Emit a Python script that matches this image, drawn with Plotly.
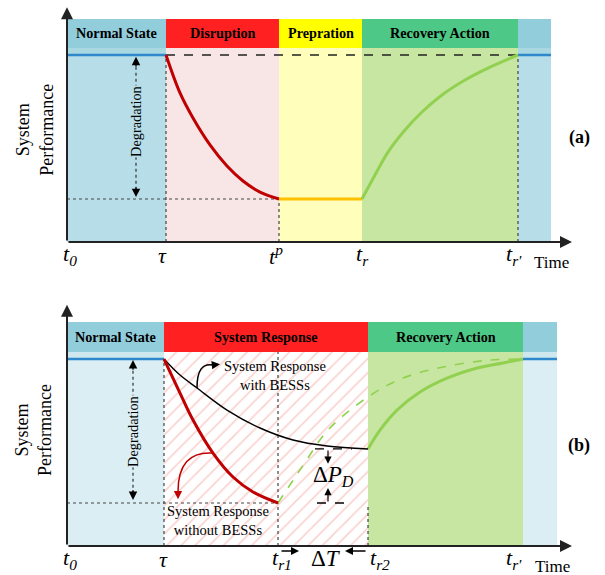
import plotly.graph_objects as go

# ---------------- data: panel (a) ----------------
A_BOUNDS = [0.0, 1.98, 4.24, 5.90, 9.02, 9.68]
A_HEADERS = ["Normal State", "Disruption", "Prepration", "Recovery Action", ""]
A_HEAD_COLORS = ["#92CDDC", "#FF2121", "#FFFF00", "#4EC886", "#92CDDC"]
A_BODY_COLORS = ["#B7DEE8", "#F8E6E6", "#FFFFBB", "#C6E6A2", "#B7DEE8"]
NOMINAL = 1.0
HEAD_LOW = 1.037
A_HEAD_HIGH = 1.193
A_LOW = 0.23
A_DISRUPT_T = [1.98, 2.26, 2.52, 2.86, 3.20, 3.52, 3.86, 4.24]
A_DISRUPT_P = [1.0, 0.797, 0.663, 0.519, 0.406, 0.326, 0.267, 0.23]
A_RECOVER_T = [5.90, 6.16, 6.42, 6.76, 7.10, 7.50, 7.96, 8.42, 9.02]
A_RECOVER_P = [0.23, 0.358, 0.481, 0.599, 0.695, 0.786, 0.866, 0.93, 1.0]
A_TICK_TEXT = ["<i>t</i><sub><i>0</i></sub>", "<i>τ</i>", "<i>t</i><sup><i>p</i></sup>",
               "<i>t</i><sub><i>r</i></sub>", "<i>t</i><sub><i>r'</i></sub>"]
A_TICK_X = [0.06, 1.90, 4.18, 5.90, 8.94]

# ---------------- data: panel (b) ----------------
B_BOUNDS = [0.0, 1.94, 6.02, 9.12, 9.80]
B_HEADERS = ["Normal State", "System Response", "Recovery Action", ""]
B_HEAD_COLORS = ["#92CDDC", "#FF2121", "#4EC886", "#92CDDC"]
B_BODY_COLORS = ["#DAEEF3", "#FFFFFF", "#C6E6A2", "#DAEEF3"]
B_HEAD_HIGH = 1.198
B_TR1 = 4.22
B_LOW = 0.23
B_BESS_END = 0.519
B_NOBESS_T = [1.94, 2.26, 2.52, 2.92, 3.32, 3.72, 4.22]
B_NOBESS_P = [1.0, 0.818, 0.674, 0.497, 0.369, 0.289, 0.23]
B_BESS_T = [1.94, 2.26, 2.60, 3.20, 3.86, 4.52, 5.20, 6.02]
B_BESS_P = [1.0, 0.914, 0.845, 0.727, 0.631, 0.567, 0.535, 0.519]
B_EARLY_T = [4.22, 4.72, 5.22, 6.02, 6.72, 7.52, 8.40, 9.12]
B_EARLY_P = [0.23, 0.43, 0.62, 0.797, 0.898, 0.957, 0.993, 1.0]
B_LATE_T = [6.02, 6.26, 6.60, 7.06, 7.60, 8.20, 8.72, 9.12]
B_LATE_P = [0.519, 0.62, 0.727, 0.824, 0.898, 0.952, 0.979, 1.0]
B_TICK_TEXT = ["<i>t</i><sub><i>0</i></sub>", "<i>τ</i>", "<i>t</i><sub><i>r1</i></sub>",
               "<i>t</i><sub><i>r2</i></sub>", "<i>t</i><sub><i>r'</i></sub>"]
B_TICK_X = [0.06, 1.92, 4.30, 6.26, 8.94]

SERIF = "Liberation Serif, Times New Roman, serif"
RED, ORANGE, GREEN, BLUE = "#C00000", "#FFC000", "#92D050", "#2F88CC"

fig = go.Figure()


def line(xs, ys, color, width, dash="solid", ax="", shape="linear"):
    fig.add_trace(go.Scatter(x=xs, y=ys, mode="lines", xaxis="x" + ax, yaxis="y" + ax,
                             line=dict(color=color, width=width, dash=dash, shape=shape),
                             hoverinfo="skip", showlegend=False))


def rect(x0, x1, y0, y1, color, ax=""):
    fig.add_shape(type="rect", xref="x" + ax, yref="y" + ax, x0=x0, x1=x1, y0=y0, y1=y1,
                  fillcolor=color, line=dict(width=0), layer="below")


def text(x, y, s, size, ax="", bold=False, angle=0, bg=None, color="black", xanchor="center"):
    fig.add_annotation(x=x, y=y, xref="x" + ax, yref="y" + ax, text=("<b>%s</b>" % s) if bold else s,
                       showarrow=False, textangle=angle, xanchor=xanchor,
                       font=dict(family=SERIF, size=size, color=color),
                       bgcolor=bg, borderpad=0)


def arrow(x, y, tx, ty, ax="", color="black", width=1.5, size=1.0, head=2):
    fig.add_annotation(x=x, y=y, ax=tx, ay=ty, xref="x" + ax, yref="y" + ax,
                       axref="x" + ax, ayref="y" + ax, text="", showarrow=True,
                       arrowhead=head, arrowsize=size, arrowwidth=width, arrowcolor=color)


def panel(bounds, headers, head_colors, body_colors, head_high, ax):
    n = len(headers)
    for i in range(n):
        rect(bounds[i], bounds[i + 1], HEAD_LOW, head_high, head_colors[i], ax)
        if head_colors[i] == "#92CDDC":
            rect(bounds[i], bounds[i + 1], 0, NOMINAL, body_colors[i], ax)
            band = "#A9D8E3" if ax == "" else "#CDE8EF"
            rect(bounds[i], bounds[i + 1], NOMINAL, HEAD_LOW, band, ax)
        else:
            rect(bounds[i], bounds[i + 1], 0, HEAD_LOW, body_colors[i], ax)
        if headers[i]:
            text((bounds[i] + bounds[i + 1]) / 2, (HEAD_LOW + head_high) / 2, headers[i], 14.2, ax, bold=True)


# ================= panel (a) =================
panel(A_BOUNDS, A_HEADERS, A_HEAD_COLORS, A_BODY_COLORS, A_HEAD_HIGH, "")
line([A_BOUNDS[1], A_BOUNDS[1]], [0, NOMINAL], "#444", 1.2, "dot")
line([A_BOUNDS[2], A_BOUNDS[2]], [0, A_LOW], "#444", 1.2, "dot")
line([A_BOUNDS[4], A_BOUNDS[4]], [0, NOMINAL], "#444", 1.2, "dot")
line([A_BOUNDS[0], A_BOUNDS[2]], [A_LOW, A_LOW], "#444", 1.2, "dot")
line([A_BOUNDS[1], A_BOUNDS[4]], [NOMINAL, NOMINAL], "#222", 1.3, "dash")
line([A_BOUNDS[0], A_BOUNDS[1]], [NOMINAL, NOMINAL], BLUE, 2.5)
line([A_BOUNDS[4], A_BOUNDS[5]], [NOMINAL, NOMINAL], BLUE, 2.5)
line(A_DISRUPT_T, A_DISRUPT_P, RED, 3, shape="spline")
line([A_BOUNDS[2], A_BOUNDS[3]], [A_LOW, A_LOW], ORANGE, 3)
line(A_RECOVER_T, A_RECOVER_P, GREEN, 3, shape="spline")

# degradation arrow
DEG_XA = 1.38
line([DEG_XA, DEG_XA], [A_LOW + 0.05, NOMINAL - 0.05], "#333", 1.2, "dot")
arrow(DEG_XA, NOMINAL - 0.01, DEG_XA, NOMINAL - 0.07, "", size=1.3, width=1.3)
arrow(DEG_XA, A_LOW + 0.01, DEG_XA, A_LOW + 0.07, "", size=1.3, width=1.3)
text(DEG_XA, 0.642, "Degradation", 14.3, "", angle=-90, bg="#B7DEE8")

# axes
arrow(10.1, 0, 0, 0, "", color="#222", width=2, size=1.2)
arrow(0, 1.255, 0, 0, "", color="#222", width=2, size=1.2)
for tx, tt in zip(A_TICK_X, A_TICK_TEXT):
    text(tx, -0.07, tt, 22, "")
text(9.68, -0.11, "Time", 17, "")
text(10.24, 0.561, "(a)", 18, "", bold=True)
text(-0.64, 0.6, "System<br>Performance", 18, "", angle=-90)

# ================= panel (b) =================
panel(B_BOUNDS, B_HEADERS, B_HEAD_COLORS, B_BODY_COLORS, B_HEAD_HIGH, "2")
fig.add_trace(go.Scatter(
    x=[B_BOUNDS[1], B_BOUNDS[2], B_BOUNDS[2], B_BOUNDS[1], B_BOUNDS[1]],
    y=[0, 0, HEAD_LOW, HEAD_LOW, 0], mode="lines", fill="toself", fillcolor="white",
    fillpattern=dict(shape="/", fgcolor="#F3A7A0", bgcolor="white", size=10, solidity=0.17),
    line=dict(width=0), xaxis="x2", yaxis="y2", hoverinfo="skip", showlegend=False))
line([B_BOUNDS[1], B_BOUNDS[1]], [0, NOMINAL], "#444", 1.2, "dot", "2")
line([B_TR1, B_TR1], [0, HEAD_LOW], "#444", 1.2, "dot", "2")
line([B_BOUNDS[2], B_BOUNDS[2]], [0, 0.21], "#444", 1.2, "dot", "2")
line([B_BOUNDS[0], B_TR1], [B_LOW, B_LOW], "#444", 1.2, "dot", "2")
line([B_BOUNDS[0], B_BOUNDS[1]], [NOMINAL, NOMINAL], BLUE, 2.5, ax="2")
line([B_BOUNDS[3], B_BOUNDS[4]], [NOMINAL, NOMINAL], BLUE, 2.5, ax="2")
line(B_EARLY_T, B_EARLY_P, GREEN, 1.6, "dash", "2", shape="spline")
line(B_LATE_T, B_LATE_P, GREEN, 3, ax="2", shape="spline")
line(B_BESS_T, B_BESS_P, "black", 1.4, ax="2", shape="spline")
line(B_NOBESS_T, B_NOBESS_P, RED, 3, ax="2", shape="spline")

# degradation arrow
DEG_XB = 1.32
line([DEG_XB, DEG_XB], [B_LOW + 0.05, NOMINAL - 0.05], "#333", 1.2, "dot", "2")
arrow(DEG_XB, NOMINAL - 0.005, DEG_XB, NOMINAL - 0.065, "2", size=1.3, width=1.3)
arrow(DEG_XB, B_LOW + 0.016, DEG_XB, B_LOW + 0.076, "2", size=1.3, width=1.3)
text(DEG_XB, 0.61, "Degradation", 14.3, "2", angle=-90, bg="#DAEEF3")

# callouts
BESS_CALL = [(2.60, 0.845), (2.60, 0.985), (2.92, 0.968), (3.06, 0.972)]
NOBESS_CALL = [(2.92, 0.497), (2.22, 0.51), (2.22, 0.29), (2.22, 0.25)]
for pts, col in ((BESS_CALL, "black"), (NOBESS_CALL, RED)):
    (x0, y0), (cx, cy), (x1, y1), (hx, hy) = pts
    fig.add_shape(type="path", xref="x2", yref="y2",
                  path="M %s,%s Q %s,%s %s,%s" % (x0, y0, cx, cy, x1, y1),
                  line=dict(color=col, width=1.5))
    arrow(hx, hy, x1, y1, "2", color=col, width=1.5, size=1.1)
text(4.16, 0.91, "System Response<br>with BESSs", 14.5, "2")
text(3.02, 0.135, "System Response<br>without BESSs", 14.5, "2")

# delta P_D
line([4.96, 5.70], [B_BESS_END, B_BESS_END], "black", 1.3, "dash", "2")
line([5.00, 5.54], [B_LOW, B_LOW], "black", 1.3, "dash", "2")
arrow(5.22, 0.44, 5.22, B_BESS_END, "2", width=1.2, size=1.2)
arrow(5.22, 0.31, 5.22, B_LOW, "2", width=1.2, size=1.2)
text(5.32, 0.375, "Δ<i>P</i><sub><i>D</i></sub>", 23, "2")

# delta T
arrow(4.64, -0.027, B_TR1 + 0.04, -0.027, "2", width=1.6, size=1.0)
arrow(5.56, -0.027, B_BOUNDS[2] - 0.02, -0.027, "2", width=1.6, size=1.0)
text(5.18, -0.065, "Δ<i>T</i>", 23, "2")

# axes
arrow(10.1, 0, 0, 0, "2", color="#222", width=2, size=1.2)
arrow(0, 1.29, 0, 0, "2", color="#222", width=2, size=1.2)
for tx, tt in zip(B_TICK_X, B_TICK_TEXT):
    text(tx, -0.07, tt, 22, "2")
text(9.70, -0.11, "Time", 17, "2")
text(10.24, 0.535, "(b)", 18, "2", bold=True)
text(-0.68, 0.62, "System<br>Performance", 18, "2", angle=-90)

fig.update_layout(
    width=605, height=575, margin=dict(l=0, r=0, t=0, b=0),
    paper_bgcolor="white", plot_bgcolor="rgba(0,0,0,0)", showlegend=False,
    xaxis=dict(domain=[0, 1], range=[-1.34, 10.76], visible=False, fixedrange=True),
    yaxis=dict(domain=[0.5009, 1], range=[-0.2406, 1.2941], visible=False, fixedrange=True),
    xaxis2=dict(domain=[0, 1], range=[-1.34, 10.76], visible=False, anchor="y2", fixedrange=True),
    yaxis2=dict(domain=[0, 0.4991], range=[-0.1551, 1.3797], visible=False, anchor="x2", fixedrange=True),
)
fig.write_html("out.html", config={"displayModeBar": False},
               post_script="document.body.style.margin='0';document.body.style.overflow='hidden';")
